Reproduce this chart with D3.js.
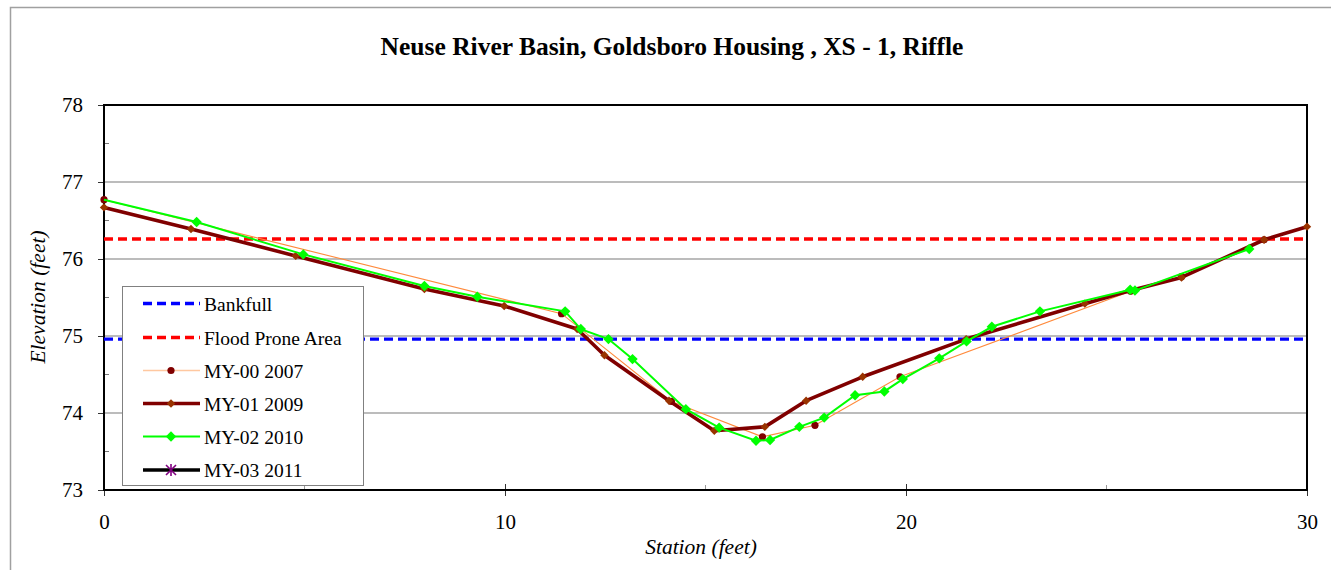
<!DOCTYPE html>
<html><head><meta charset="utf-8">
<script src="https://cdn.jsdelivr.net/npm/d3@7"></script>
<style>body{margin:0;background:#fff;}svg{display:block;}</style>
</head><body>
<svg id="c" width="1331" height="570"></svg>
<script>
const title = "Neuse River Basin, Goldsboro Housing , XS - 1, Riffle";
const xLabel = "Station (feet)";
const yLabel = "Elevation (feet)";
const xTicks = [0, 10, 20, 30];
const xMinorTicks = [5, 15, 25];
const yTicks = [73, 74, 75, 76, 77, 78];
const yMinorTicks = [73.5, 74.5, 75.5, 76.5, 77.5];
const bankfull = 74.96;
const floodProne = 76.26;
const my00Station = [0, 11.41, 14.15, 16.42, 17.73, 19.85, 25.6, 26.87, 28.93];
const my00Elev    = [76.77, 75.29, 74.15, 73.69, 73.84, 74.47, 75.58, 75.77, 76.25];
const my01Station = [0, 2.17, 4.78, 7.99, 9.98, 11.8, 12.48, 14.09, 15.22, 16.48, 17.51, 18.92, 21.5, 24.46, 25.6, 26.87, 28.93, 30.0];
const my01Elev    = [76.67, 76.39, 76.04, 75.61, 75.39, 75.09, 74.75, 74.16, 73.77, 73.82, 74.16, 74.47, 74.96, 75.42, 75.59, 75.76, 76.25, 76.42];
const my02Station = [0, 2.31, 4.97, 7.99, 9.31, 11.5, 11.89, 12.58, 13.18, 14.51, 15.34, 16.26, 16.61, 17.34, 17.96, 18.73, 19.46, 19.92, 20.83, 21.51, 22.14, 23.34, 25.59, 25.71, 28.56];
const my02Elev    = [76.77, 76.48, 76.06, 75.65, 75.51, 75.32, 75.09, 74.96, 74.70, 74.05, 73.81, 73.64, 73.65, 73.82, 73.94, 74.23, 74.28, 74.44, 74.71, 74.93, 75.12, 75.32, 75.60, 75.59, 76.13];
const my03Station = [];
const my03Elev = [];
const legendNames = ["Bankfull", "Flood Prone Area", "MY-00 2007", "MY-01 2009", "MY-02 2010", "MY-03 2011"];

const FONT = "Liberation Serif";
const svg = d3.select("#c").attr("font-family", FONT);
const L = 104, R = 1307, T = 105, B = 490;
const x = d3.scaleLinear().domain([0, 30]).range([L, R]);
const y = d3.scaleLinear().domain([73, 78]).range([B, T]);

// outer frame
svg.append("rect").attr("x", 10.5).attr("y", 7.5).attr("width", 1400).attr("height", 700)
  .attr("fill", "none").attr("stroke", "#a0a0a0").attr("stroke-width", 1.5);

// title
svg.append("text").attr("x", 672).attr("y", 55).attr("text-anchor", "middle").attr("font-family", FONT)
  .attr("font-size", 25.5).attr("font-weight", "bold").text(title);

// gridlines
svg.append("g").selectAll("line").data(yTicks.filter(d => d > 73 && d < 78)).join("line")
  .attr("x1", L).attr("x2", R).attr("y1", d => y(d)).attr("y2", d => y(d))
  .attr("stroke", "#7a7a7a").attr("stroke-width", 1.2);

// axes
const yAxis = d3.axisLeft(y).tickValues(yTicks).tickSize(6).tickPadding(15).tickFormat(d3.format("d"));
const gy = svg.append("g").attr("transform", `translate(${L},0)`).call(yAxis).attr("font-family", FONT);
gy.select(".domain").remove();
gy.selectAll("text").attr("font-size", 21).attr("fill", "#000");
gy.selectAll(".tick line").attr("stroke", "#333");
svg.append("g").selectAll("line").data(yMinorTicks).join("line")
  .attr("x1", L).attr("x2", L + 5).attr("y1", d => y(d)).attr("y2", d => y(d)).attr("stroke", "#777");

const xAxis = d3.axisBottom(x).tickValues(xTicks).tickSizeInner(6).tickSizeOuter(0).tickPadding(22).tickFormat(d3.format("d"));
const gx = svg.append("g").attr("transform", `translate(0,${B})`).call(xAxis).attr("font-family", FONT);
gx.select(".domain").remove();
gx.selectAll("text").attr("font-size", 21).attr("fill", "#000").attr("dy", null).attr("y", 39);
gx.selectAll(".tick line").attr("y1", -6).attr("stroke", "#333");
svg.append("g").selectAll("line").data(xMinorTicks).join("line")
  .attr("x1", d => x(d)).attr("x2", d => x(d)).attr("y1", B).attr("y2", B - 5).attr("stroke", "#999");

// plot border
svg.append("rect").attr("x", L).attr("y", T).attr("width", R - L).attr("height", B - T)
  .attr("fill", "none").attr("stroke", "#000").attr("stroke-width", 2);

// axis labels
svg.append("text").attr("transform", `translate(45,297) rotate(-90)`).attr("text-anchor", "middle")
  .attr("font-size", 21.5).attr("font-style", "italic").text(yLabel);
svg.append("text").attr("x", 701).attr("y", 554).attr("text-anchor", "middle")
  .attr("font-size", 21.5).attr("font-style", "italic").text(xLabel);

// reference lines
svg.append("line").attr("x1", x(0)).attr("x2", x(30)).attr("y1", y(bankfull)).attr("y2", y(bankfull))
  .attr("stroke", "#0000ff").attr("stroke-width", 3.3).attr("stroke-dasharray", "9,5");
svg.append("line").attr("x1", x(0)).attr("x2", x(30)).attr("y1", y(floodProne)).attr("y2", y(floodProne))
  .attr("stroke", "#ff0000").attr("stroke-width", 3.3).attr("stroke-dasharray", "9,5");

const line = d3.line().x(d => x(d[0])).y(d => y(d[1]));
const zip = (a, b) => a.map((v, i) => [v, b[i]]);
const diamond = (s) => `M0,${-s}L${s},0L0,${s}L${-s},0Z`;

// MY-00
const d00 = zip(my00Station, my00Elev);
svg.append("path").datum(d00).attr("d", line).attr("fill", "none").attr("stroke", "#ff8a3c").attr("stroke-width", 1.1);
svg.append("g").selectAll("circle").data(d00).join("circle")
  .attr("cx", d => x(d[0])).attr("cy", d => y(d[1])).attr("r", 3.6).attr("fill", "#800000");

// MY-01
const d01 = zip(my01Station, my01Elev);
svg.append("path").datum(d01).attr("d", line).attr("fill", "none").attr("stroke", "#800000").attr("stroke-width", 3.6).attr("stroke-linejoin", "round");
svg.append("g").selectAll("path").data(d01).join("path")
  .attr("transform", d => `translate(${x(d[0])},${y(d[1])})`).attr("d", diamond(4.2)).attr("fill", "#993300");

// MY-02
const d02 = zip(my02Station, my02Elev);
svg.append("path").datum(d02).attr("d", line).attr("fill", "none").attr("stroke", "#00ff00").attr("stroke-width", 2);
svg.append("g").selectAll("path").data(d02.slice(1)).join("path")
  .attr("transform", d => `translate(${x(d[0])},${y(d[1])})`).attr("d", diamond(5.2)).attr("fill", "#00ff00");

// MY-03
const d03 = zip(my03Station, my03Elev);
if (d03.length) svg.append("path").datum(d03).attr("d", line).attr("fill", "none").attr("stroke", "#000").attr("stroke-width", 3.6);

// legend
const lg = svg.append("g");
lg.append("rect").attr("x", 122.5).attr("y", 286.5).attr("width", 241).attr("height", 199)
  .attr("fill", "#fff").attr("stroke", "#808080").attr("stroke-width", 1);
const ly = [303.5, 337.5, 370.5, 403.5, 436.5, 470];
const lx1 = 143, lx2 = 200, lm = 171;
legendNames.forEach((name, i) => {
  const yy = ly[i];
  const g = lg.append("g");
  if (i === 0) g.append("line").attr("x1", lx1).attr("x2", lx2).attr("y1", yy).attr("y2", yy).attr("stroke", "#0000ff").attr("stroke-width", 3.3).attr("stroke-dasharray", "9,5");
  if (i === 1) g.append("line").attr("x1", lx1).attr("x2", lx2).attr("y1", yy).attr("y2", yy).attr("stroke", "#ff0000").attr("stroke-width", 3.3).attr("stroke-dasharray", "9,5");
  if (i === 2) {
    g.append("line").attr("x1", lx1).attr("x2", lx2).attr("y1", yy).attr("y2", yy).attr("stroke", "#ffc8a0").attr("stroke-width", 1.5);
    g.append("circle").attr("cx", lm).attr("cy", yy).attr("r", 3.6).attr("fill", "#800000");
  }
  if (i === 3) {
    g.append("line").attr("x1", lx1).attr("x2", lx2).attr("y1", yy).attr("y2", yy).attr("stroke", "#800000").attr("stroke-width", 3.6);
    g.append("path").attr("transform", `translate(${lm},${yy})`).attr("d", diamond(4.2)).attr("fill", "#993300");
  }
  if (i === 4) {
    g.append("line").attr("x1", lx1).attr("x2", lx2).attr("y1", yy).attr("y2", yy).attr("stroke", "#00ff00").attr("stroke-width", 2);
    g.append("path").attr("transform", `translate(${lm},${yy})`).attr("d", diamond(5.2)).attr("fill", "#00ff00");
  }
  if (i === 5) {
    g.append("line").attr("x1", lx1).attr("x2", lx2).attr("y1", yy).attr("y2", yy).attr("stroke", "#000").attr("stroke-width", 3.6);
    const s = 5;
    g.append("path").attr("transform", `translate(${lm},${yy})`)
      .attr("d", `M${-s},${-s}L${s},${s}M${-s},${s}L${s},${-s}M0,${-s-1}L0,${s+1}`)
      .attr("stroke", "#800080").attr("stroke-width", 1.6);
  }
  g.append("text").attr("x", 204).attr("y", yy + 7).attr("font-size", 19.5).text(name);
});
</script>
</body></html>
